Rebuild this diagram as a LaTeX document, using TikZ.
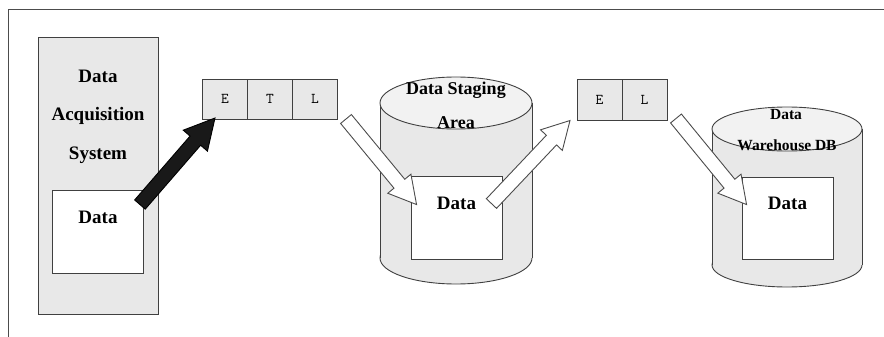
\documentclass[tikz,border=0pt]{standalone}
\usepackage{fontspec}
\setmainfont{Liberation Serif}
\usetikzlibrary{positioning,calc}

\tikzset{
  box/.style={draw=black!75, line width=0.9pt, fill=black!9, inner sep=0pt, outer sep=0pt},
  databox/.style={draw=black!75, line width=0.9pt, fill=white, inner sep=0pt, minimum width=91pt, minimum height=83pt},
  etl/.style={box, minimum width=45pt, minimum height=40pt, font=\ttfamily\fontsize{15}{15}\selectfont},
  lbl/.style={font=\bfseries\fontsize{18}{18}\selectfont, inner sep=0pt},
  cyl/.style={draw=black!75, line width=0.9pt, fill=black!9},
  whitearrow/.style={draw=black!70, line width=0.9pt, fill=white, line join=miter},
  blackarrow/.style={draw=black, line width=0.9pt, fill=black!90, line join=miter},
}

% block arrow: style, tail, tip, shaft half width, head half width, head length
\newcommand{\blockarrow}[6]{%
  \coordinate (#2-base) at ($(#3)!#6!(#2)$);
  \draw[#1] ($(#2)!#4!90:(#3)$) -- ($(#2-base)!#4!90:(#3)$) -- ($(#2-base)!#5!90:(#3)$) -- (#3)
    -- ($(#2-base)!#5!-90:(#3)$) -- ($(#2-base)!#4!-90:(#3)$) -- ($(#2)!#4!-90:(#3)$) -- cycle;
}

\begin{document}
\begin{tikzpicture}[x=1pt,y=-1pt]
\useasboundingbox (0,0) rectangle (884,337);
% frame
\draw[black!70, line width=0.8pt] (884,9) -- (8,9) -- (8,337);

% acquisition system
\node[box, minimum width=120pt, minimum height=277pt] (acq) at (98,175.5) {};
\node[lbl, font=\bfseries\fontsize{19}{38.5}\selectfont, align=center] (acqlabel) at (98,116.5) {Data\\Acquisition\\System};
\node[databox] (acqdata) at (98,231.5) {};
\node[lbl, font=\bfseries\fontsize{19}{19}\selectfont] (acqdatatext) at (98,217) {Data};

% E T L
\node[etl] (e1) at (225,99) {E};
\node[etl, right=0pt of e1] (t1) {T};
\node[etl, right=0pt of t1] (l1) {L};

% staging area
\filldraw[cyl] (456,258) ellipse (76pt and 26pt);
\fill[black!9] (380,103) rectangle (532,258);
\draw[cyl, fill=none] (380,103) -- (380,258) (532,103) -- (532,258);
\filldraw[cyl, fill=black!5] (456,103) ellipse (76pt and 26pt);
\node[lbl] (stagelabel) at (456,90) {Data Staging};
\node[lbl] (arealabel) at (456,123) {Area};
\node[databox] (stagedata) at (456.5,217.5) {};
\node[lbl, font=\bfseries\fontsize{19}{19}\selectfont] (stagedatatext) at (456.5,203) {Data};

% E L
\node[etl, minimum height=41pt] (e2) at (599.5,100) {E};
\node[etl, minimum height=41pt, right=0pt of e2] (l2) {L};

% warehouse
\filldraw[cyl] (787,265) ellipse (75pt and 22pt);
\fill[black!9] (712,129) rectangle (862,265);
\draw[cyl, fill=none] (712,129) -- (712,265) (862,129) -- (862,265);
\filldraw[cyl, fill=black!5] (787,129) ellipse (75pt and 22pt);
\node[lbl, font=\bfseries\fontsize{15.5}{15.5}\selectfont] (whlabel) at (786,115) {Data};
\node[lbl, font=\bfseries\fontsize{15.5}{15.5}\selectfont] (dblabel) at (787,145) {Warehouse DB};
\node[databox, minimum height=82pt] (whdata) at (787.5,218) {};
\node[lbl, font=\bfseries\fontsize{19}{19}\selectfont] (whdatatext) at (787.5,203) {Data};

% arrows
\coordinate (a1t) at ([shift={(-4,15)}]acqdata.north east);
\coordinate (a1h) at ([shift={(12.5,-1)}]e1.south west);
\coordinate (a2t) at ([shift={(8.5,0)}]l1.south east);
\coordinate (a2h) at ([shift={(6,29)}]stagedata.north west);
\coordinate (a3t) at ([shift={(-11,28)}]stagedata.north east);
\coordinate (a3h) at ([shift={(-7,0)}]e2.south west);
\coordinate (a4t) at ([shift={(9,-2)}]l2.south east);
\coordinate (a4h) at ([shift={(5,28)}]whdata.north west);
\blockarrow{blackarrow}{a1t}{a1h}{7pt}{16pt}{30pt}
\blockarrow{whitearrow}{a2t}{a2h}{7pt}{15pt}{27pt}
\blockarrow{whitearrow}{a3t}{a3h}{7pt}{15pt}{27pt}
\blockarrow{whitearrow}{a4t}{a4h}{7pt}{15pt}{27pt}
\end{tikzpicture}
\end{document}
